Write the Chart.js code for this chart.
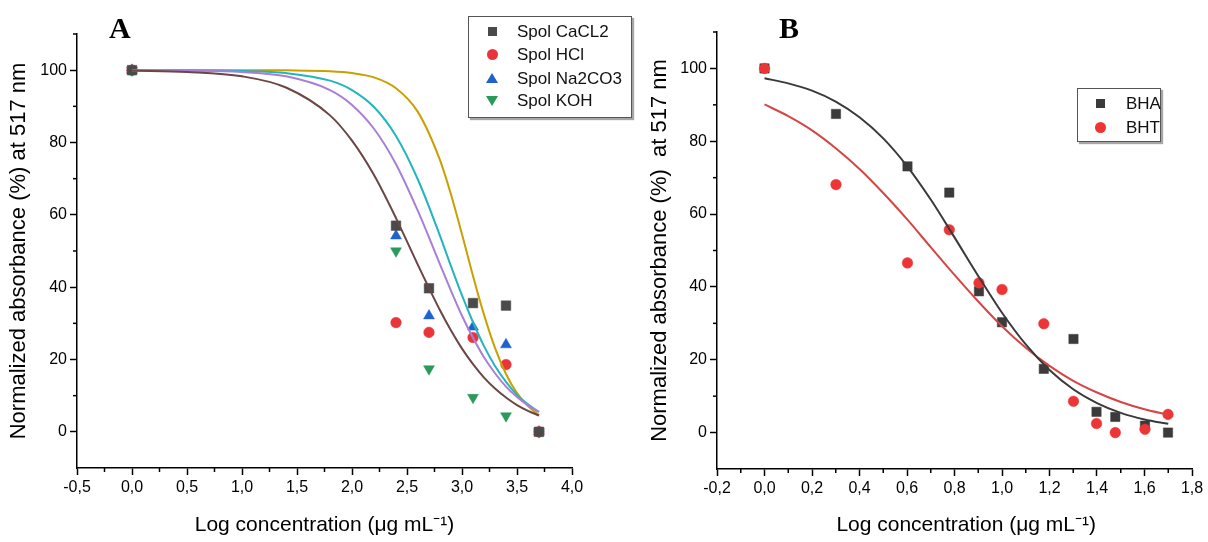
<!DOCTYPE html>
<html><head><meta charset="utf-8">
<script src="https://cdn.jsdelivr.net/npm/chart.js@4.4.1/dist/chart.umd.min.js"></script>
<style>
html,body{margin:0;padding:0;background:#fff;}
#wrap{position:relative;width:1208px;height:542px;overflow:hidden;font-family:"Liberation Sans",Arial,sans-serif;}
canvas{position:absolute;top:0;}
#cA{left:0}
#cB{left:604px}
.panel{position:absolute;font-family:"Liberation Serif","Times New Roman",serif;font-weight:bold;font-size:30px;line-height:30px;color:#000;}
.legend{position:absolute;background:#fff;border:1px solid #555;box-shadow:2px 2px 1px rgba(0,0,0,0.35);}
.row{position:absolute;font-size:17px;line-height:20px;color:#111;white-space:nowrap;}
.mk{position:absolute;}
</style></head>
<body>
<div id="wrap">
<canvas id="cA" width="604" height="542"></canvas>
<canvas id="cB" width="604" height="542"></canvas>
<div class="panel" style="left:109px;top:13px;">A</div>
<div class="panel" style="left:779px;top:13px;">B</div>
<div class="legend" style="left:468px;top:16px;width:162px;height:100px;">
  <div class="mk" style="left:19px;top:10px;width:9px;height:9px;background:#4a4a4a;"></div>
  <div class="row" style="left:48px;top:5px;">Spol CaCL2</div>
  <div class="mk" style="left:18px;top:32px;width:11px;height:11px;border-radius:50%;background:#e8353a;"></div>
  <div class="row" style="left:48px;top:28px;">Spol HCl</div>
  <div class="mk" style="left:17px;top:56px;width:0;height:0;border-left:6px solid transparent;border-right:6px solid transparent;border-bottom:10px solid #1e62d0;"></div>
  <div class="row" style="left:48px;top:52px;">Spol Na2CO3</div>
  <div class="mk" style="left:17px;top:79px;width:0;height:0;border-left:6px solid transparent;border-right:6px solid transparent;border-top:10px solid #2a9a5a;"></div>
  <div class="row" style="left:48px;top:74px;">Spol KOH</div>
</div>
<div class="legend" style="left:1077px;top:88px;width:82px;height:52px;">
  <div class="mk" style="left:18px;top:10px;width:9px;height:9px;background:#3b3b3b;"></div>
  <div class="row" style="left:48px;top:5px;">BHA</div>
  <div class="mk" style="left:17px;top:33px;width:11px;height:11px;border-radius:50%;background:#ee3535;"></div>
  <div class="row" style="left:48px;top:29px;">BHT</div>
</div>
</div>
<script>
// ---------- Panel A data ----------
const xA = [0, 2.4, 2.7, 3.1, 3.4, 3.7];
const spolCaCL2 = [100, 57.0, 39.7, 35.6, 34.9, 0];
const spolHCl = [100, 30.2, 27.5, 26.1, 18.6, 0];
const spolNa2CO3 = [100, 54.2, 32.1, 29.0, 24.1, 0];
const spolKOH = [100, 50.0, 17.4, 9.5, 4.4, 0];

const xFitA = [0, 0.5, 1.0, 1.4, 1.8, 2.0, 2.2, 2.4, 2.6, 2.8, 2.9, 3.0, 3.1, 3.2, 3.3, 3.4, 3.5, 3.6, 3.7];
const fitBrown = [99.9, 99.5, 98.3, 95.2, 87.5, 80.5, 71.0, 59.1, 46.1, 33.6, 28.0, 23.0, 18.7, 15.0, 12.0, 9.5, 7.4, 5.8, 4.5];
const fitPurple = [100, 99.9, 99.5, 98.3, 94.5, 90.4, 83.8, 74.0, 61.0, 46.3, 39.0, 32.1, 26.0, 20.6, 16.2, 12.5, 9.6, 7.3, 5.5];
const fitCyan = [100, 100, 99.8, 99.2, 97.1, 94.5, 89.8, 81.8, 69.7, 54.2, 45.8, 37.7, 30.3, 23.7, 18.2, 13.8, 10.2, 7.6, 5.5];
const fitGold = [100, 100, 100, 99.95, 99.7, 99.2, 98.0, 95.0, 88.4, 75.1, 65.6, 54.6, 43.1, 32.4, 23.2, 16.0, 10.7, 7.1, 4.6];

// ---------- Panel B data ----------
const xB = [0, 0.301, 0.602, 0.778, 0.903, 1.0, 1.176, 1.301, 1.398, 1.477, 1.602, 1.699];
const bha = [100, 87.5, 73.1, 65.9, 38.8, 30.3, 17.5, 25.7, 5.7, 4.3, 1.9, 0];
const bht = [100, 68.1, 46.6, 55.7, 41.1, 39.3, 29.9, 8.6, 2.5, 0, 0.9, 5.0];

const xFitB = [0, 0.1, 0.2, 0.3, 0.4, 0.5, 0.6, 0.7, 0.8, 0.9, 1.0, 1.1, 1.2, 1.3, 1.4, 1.5, 1.6, 1.7];
const fitBHA = [97.3, 95.9, 93.9, 90.9, 86.6, 80.8, 73.2, 64.0, 53.6, 43.0, 32.9, 24.2, 17.2, 11.9, 8.1, 5.4, 3.6, 2.4];
const fitBHT = [90.1, 86.9, 83.0, 78.1, 72.4, 65.8, 58.6, 50.9, 43.3, 36.0, 29.2, 23.3, 18.3, 14.2, 11.0, 8.4, 6.4, 4.9];

// ---------- Tick labels ----------
const xTicksA = [-0.5, 0, 0.5, 1.0, 1.5, 2.0, 2.5, 3.0, 3.5, 4.0];
const xMinorA = [-0.25, 0.25, 0.75, 1.25, 1.75, 2.25, 2.75, 3.25, 3.75];
const xTicksB = [-0.2, 0, 0.2, 0.4, 0.6, 0.8, 1.0, 1.2, 1.4, 1.6, 1.8];
const xMinorB = [-0.1, 0.1, 0.3, 0.5, 0.7, 0.9, 1.1, 1.3, 1.5, 1.7];
const yTicks = [0, 20, 40, 60, 80, 100];
const yMinor = [10, 30, 50, 70, 90, 110];

const FONT = "'Liberation Sans', Arial, sans-serif";
Chart.defaults.font.family = FONT;
Chart.defaults.color = '#000';

const pts = (xs, ys) => xs.map((x, i) => ({x: x, y: ys[i]}));
const fmt = v => (Math.round(v * 10) / 10).toFixed(1).replace('.', ',');

const minorTicks = {
  id: 'minorTicks',
  afterDraw(chart, args, opts) {
    const ctx = chart.ctx, sx = chart.scales.x, sy = chart.scales.y;
    ctx.save();
    ctx.strokeStyle = '#000';
    ctx.lineWidth = 1.5;
    (opts.x || []).forEach(v => {
      const px = sx.getPixelForValue(v);
      ctx.beginPath(); ctx.moveTo(px, sx.top); ctx.lineTo(px, sx.top + 4); ctx.stroke();
    });
    (opts.y || []).forEach(v => {
      const py = sy.getPixelForValue(v);
      ctx.beginPath(); ctx.moveTo(sy.right, py); ctx.lineTo(sy.right - 4, py); ctx.stroke();
    });
    ctx.restore();
  }
};

function curve(xs, ys, color) {
  return {data: pts(xs, ys), showLine: true, borderColor: color, borderWidth: 2, pointRadius: 0,
          cubicInterpolationMode: 'monotone', fill: false};
}
function marks(xs, ys, color, style, r, rot) {
  return {data: pts(xs, ys), showLine: false, pointStyle: style, pointRadius: r, pointRotation: rot || 0,
          backgroundColor: color, borderColor: color, borderWidth: 0.5, pointHoverRadius: r};
}

function scales(cfg) {
  return {
    x: {
      type: 'linear', min: cfg.xmin, max: cfg.xmax,
      afterBuildTicks: s => { s.ticks = cfg.xticks.map(v => ({value: v})); },
      afterFit: s => { s.height = cfg.xh; },
      grid: {display: true, drawOnChartArea: false, drawTicks: true, tickLength: 7, tickColor: '#000', tickWidth: 1.5},
      border: {display: true, color: '#000', width: 1.5},
      ticks: {color: '#000', font: {size: 16}, padding: 3, maxRotation: 0, autoSkip: false, callback: v => fmt(v)},
      title: {display: true, text: cfg.xtitle, color: '#000', font: {size: 21}, padding: {top: 0, bottom: 4}}
    },
    y: {
      type: 'linear', min: -10, max: 110,
      afterBuildTicks: s => { s.ticks = yTicks.map(v => ({value: v})); },
      afterFit: s => { s.width = cfg.yw; },
      grid: {display: true, drawOnChartArea: false, drawTicks: true, tickLength: 7, tickColor: '#000', tickWidth: 1.5},
      border: {display: true, color: '#000', width: 1.5},
      ticks: {color: '#000', font: {size: 16}, padding: 3, callback: v => String(v)},
      title: {display: true, text: cfg.ytitle, color: '#000', font: {size: 22}, padding: {top: cfg.ytpad, bottom: 0}}
    }
  };
}

const common = {
  responsive: false, animation: false, devicePixelRatio: 1,
  plugins: {legend: {display: false}, tooltip: {enabled: false}}
};

new Chart(document.getElementById('cA'), {
  type: 'scatter',
  data: {datasets: [
    curve(xFitA, fitBrown, '#6b4646'),
    curve(xFitA, fitPurple, '#a97fd6'),
    curve(xFitA, fitCyan, '#22b5bd'),
    curve(xFitA, fitGold, '#c9a000'),
    marks(xA, spolCaCL2, '#4a4a4a', 'rect', 6.8),
    marks(xA, spolHCl, '#e8353a', 'circle', 5.3),
    marks(xA, spolNa2CO3, '#1e62d0', 'triangle', 6.3),
    marks(xA, spolKOH, '#2a9a5a', 'triangle', 6.3, 180)
  ]},
  options: Object.assign({}, common, {
    layout: {padding: {top: 34, right: 32, left: 0, bottom: 0}},
    scales: scales({xmin: -0.5, xmax: 4.0, xticks: xTicksA, xh: 74, yw: 77, ytpad: 6,
                    xtitle: 'Log concentration (\u03bcg mL\u207b\u00b9)',
                    ytitle: 'Normalized absorbance (%) at 517 nm'}),
    plugins: Object.assign({}, common.plugins, {minorTicks: {x: xMinorA, y: yMinor}})
  }),
  plugins: [minorTicks]
});

new Chart(document.getElementById('cB'), {
  type: 'scatter',
  data: {datasets: [
    curve(xFitB, fitBHA, '#3a3a3a'),
    curve(xFitB, fitBHT, '#d64545'),
    marks(xB, bht, '#ee3535', 'circle', 5.3),
    marks(xB, bha, '#3b3b3b', 'rect', 6.6)
  ]},
  options: Object.assign({}, common, {
    layout: {padding: {top: 32, right: 16, left: 0, bottom: 0}},
    scales: scales({xmin: -0.2, xmax: 1.8, xticks: xTicksB, xh: 73, yw: 113, ytpad: 43,
                    xtitle: '    Log concentration (\u03bcg mL\u207b\u00b9)',
                    ytitle: 'Normalized absorbance (%)  at 517 nm'}),
    plugins: Object.assign({}, common.plugins, {minorTicks: {x: xMinorB, y: yMinor}})
  }),
  plugins: [minorTicks]
});
</script>
</body></html>
